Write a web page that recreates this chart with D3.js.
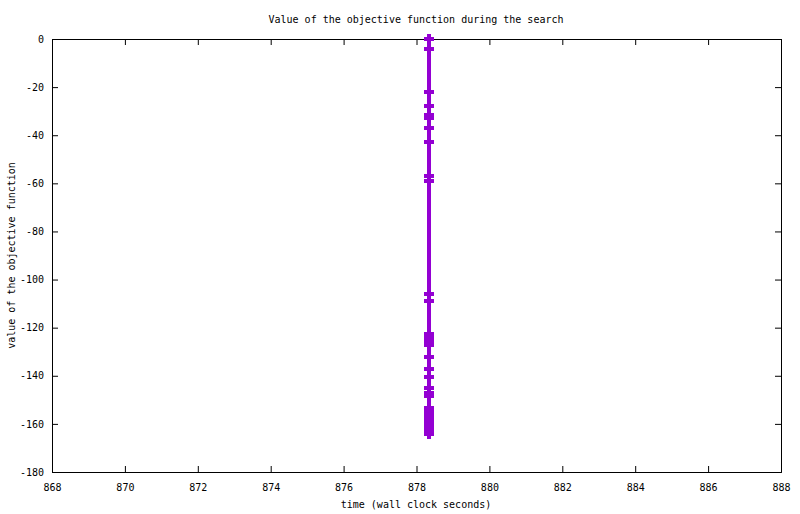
<!DOCTYPE html>
<html>
<head>
<meta charset="utf-8">
<script src="https://cdn.jsdelivr.net/npm/d3@7"></script>
<style>
  body { margin: 0; background: #fff; }
  text { font-family: "DejaVu Sans Mono", monospace; font-size: 10px; fill: #000; }
</style>
</head>
<body>
<div id="chart"></div>
<script>
var width = 800;
var height = 514;
var margin = {top: 39, right: 19, bottom: 42, left: 52};

// objective function samples (wall clock seconds, value)
var times = [878.34, 878.34, 878.34, 878.34, 878.34, 878.34, 878.34, 878.34, 878.34, 878.34,
             878.34, 878.34, 878.34, 878.34, 878.34, 878.34, 878.34, 878.34, 878.34, 878.34,
             878.34, 878.34, 878.34, 878.34, 878.34, 878.34, 878.34, 878.34, 878.34, 878.34, 878.34];
var values = [0, -4.0, -21.9, -27.7, -31.8, -32.8, -36.9, -42.7, -56.8, -58.9,
              -105.9, -108.8, -122.8, -124.3, -125.8, -127.3, -132.3, -137.0, -140.4, -144.9,
              -147.3, -148.5, -153.4, -154.8, -156.3, -157.7, -159.2, -160.6, -162.1, -163.3, -164.0];
var xTicks = [868, 870, 872, 874, 876, 878, 880, 882, 884, 886, 888];
var yTicks = [0, -20, -40, -60, -80, -100, -120, -140, -160, -180];

var title = "Value of the objective function during the search";
var xLabel = "time (wall clock seconds)";
var yLabel = "value of the objective function";
var lineColor = "#9400d3";

function main() {
    var svg = d3.select("#chart").append("svg")
        .attr("width", width)
        .attr("height", height);

    var x = d3.scaleLinear().domain([868, 888]).range([margin.left, width - margin.right]);
    var y = d3.scaleLinear().domain([-180, 0]).range([height - margin.bottom, margin.top]);

    var tick = 6;

    // bottom axis with labels
    svg.append("g")
        .attr("transform", "translate(0," + y(-180) + ")")
        .call(d3.axisBottom(x).tickValues(xTicks).tickSize(-tick).tickPadding(12).tickFormat(d3.format("d")))
        .call(styleAxis);
    // top mirror
    svg.append("g")
        .attr("transform", "translate(0," + y(0) + ")")
        .call(d3.axisTop(x).tickValues(xTicks).tickSize(-tick).tickFormat(""))
        .call(styleAxis);
    // left axis with labels
    svg.append("g")
        .attr("transform", "translate(" + x(868) + ",0)")
        .call(d3.axisLeft(y).tickValues(yTicks).tickSize(-tick).tickPadding(8).tickFormat(d3.format("d")))
        .call(styleAxis);
    // right mirror
    svg.append("g")
        .attr("transform", "translate(" + x(888) + ",0)")
        .call(d3.axisRight(y).tickValues(yTicks).tickSize(-tick).tickFormat(""))
        .call(styleAxis);

    svg.selectAll(".tick text").text(function () {
        return d3.select(this).text().replace("\u2212", "-");
    });

    var pts = times.map(function (t, i) { return {t: t, v: values[i]}; });

    var line = d3.line()
        .x(function (d) { return x(d.t); })
        .y(function (d) { return y(d.v); });

    svg.append("path")
        .datum(pts)
        .attr("d", line)
        .attr("fill", "none")
        .attr("stroke", lineColor)
        .attr("stroke-width", 4)
        .attr("shape-rendering", "crispEdges");

    var marks = svg.append("g")
        .attr("stroke", lineColor)
        .attr("stroke-width", 4)
        .attr("shape-rendering", "crispEdges");
    marks.selectAll("line.h").data(pts).enter().append("line")
        .attr("class", "h")
        .attr("x1", function (d) { return x(d.t) - 5; })
        .attr("x2", function (d) { return x(d.t) + 5; })
        .attr("y1", function (d) { return y(d.v); })
        .attr("y2", function (d) { return y(d.v); });
    marks.selectAll("line.v").data(pts).enter().append("line")
        .attr("class", "v")
        .attr("x1", function (d) { return x(d.t); })
        .attr("x2", function (d) { return x(d.t); })
        .attr("y1", function (d) { return y(d.v) - 5; })
        .attr("y2", function (d) { return y(d.v) + 5; });

    svg.append("text")
        .attr("x", 416)
        .attr("y", 23)
        .attr("text-anchor", "middle")
        .text(title);

    svg.append("text")
        .attr("x", 416)
        .attr("y", 508)
        .attr("text-anchor", "middle")
        .text(xLabel);

    svg.append("text")
        .attr("transform", "translate(15," + (height - margin.bottom + margin.top) / 2 + ") rotate(-90)")
        .attr("text-anchor", "middle")
        .text(yLabel);
}

function styleAxis(g) {
    g.select(".domain").attr("stroke", "#000").attr("stroke-width", 1);
    g.selectAll(".tick line").attr("stroke", "#000");
    g.selectAll("text").attr("font-family", "DejaVu Sans Mono").attr("font-size", 10).attr("fill", "#000");
}

main();
</script>
</body>
</html>
